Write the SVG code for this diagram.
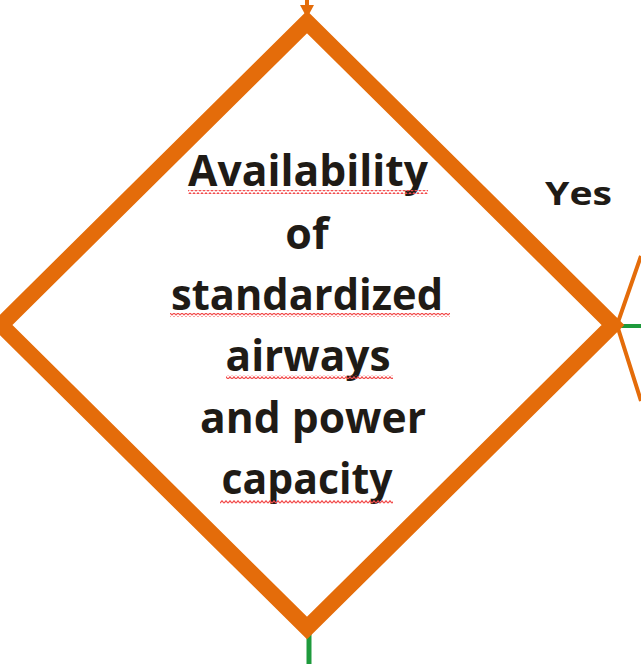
<svg xmlns="http://www.w3.org/2000/svg" width="641" height="664" viewBox="0 0 641 664">
  <defs>
    <style>
      .lbl { font-family: "Open Sans", "Liberation Sans", Arial, sans-serif; font-weight: bold; font-size: 43px; fill: #1f1b16; text-anchor: middle; }
      .yes { font-family: "Open Sans", "Liberation Sans", Arial, sans-serif; font-weight: bold; font-size: 32px; fill: #1f1b16; }
      .orange { stroke: #E46C0A; fill: none; }
      .green { stroke: #1E9A3C; fill: none; }
    </style>
    <pattern id="wave" width="4" height="4" patternUnits="userSpaceOnUse">
      <path d="M0,3.2 L2,0.8 L4,3.2" stroke="#F24B4B" stroke-width="1.2" fill="none"/>
    </pattern>
  </defs>
  <rect width="641" height="664" fill="#ffffff"/>

  <g id="connectors">
    <line class="orange" x1="307" y1="0" x2="307" y2="8" stroke-width="4"/>
    <polygon points="300,5 314,5 307,18" fill="#E46C0A"/>
    <line class="green" x1="617" y1="326" x2="641" y2="326" stroke-width="4"/>
    <line class="green" x1="309" y1="622" x2="309" y2="664" stroke-width="5"/>
    <polyline class="orange" points="641,256 617,325 641,401" stroke-width="4"/>
    <text class="yes" x="545" y="205" textLength="67" lengthAdjust="spacingAndGlyphs">Yes</text>
  </g>

  <g id="decision">
    <polygon class="orange" points="307,22 613,325 307,628 1,325" fill="#ffffff" stroke-width="16" stroke-linejoin="miter"/>
    <text class="lbl" x="308" y="186" textLength="240" lengthAdjust="spacingAndGlyphs">Availability</text>
    <text class="lbl" x="307" y="249">of</text>
    <text class="lbl" x="307" y="310" textLength="272" lengthAdjust="spacingAndGlyphs">standardized</text>
    <text class="lbl" x="308" y="371" textLength="165" lengthAdjust="spacingAndGlyphs">airways</text>
    <text class="lbl" x="313" y="433" textLength="226" lengthAdjust="spacingAndGlyphs">and power</text>
    <text class="lbl" x="307" y="494" textLength="171" lengthAdjust="spacingAndGlyphs">capacity</text>
    <rect x="188" y="190" width="240" height="4" fill="url(#wave)"/>
    <rect x="170" y="313" width="280" height="4" fill="url(#wave)"/>
    <rect x="226" y="375" width="167" height="4" fill="url(#wave)"/>
    <rect x="220" y="500" width="173" height="4" fill="url(#wave)"/>
  </g>
</svg>
